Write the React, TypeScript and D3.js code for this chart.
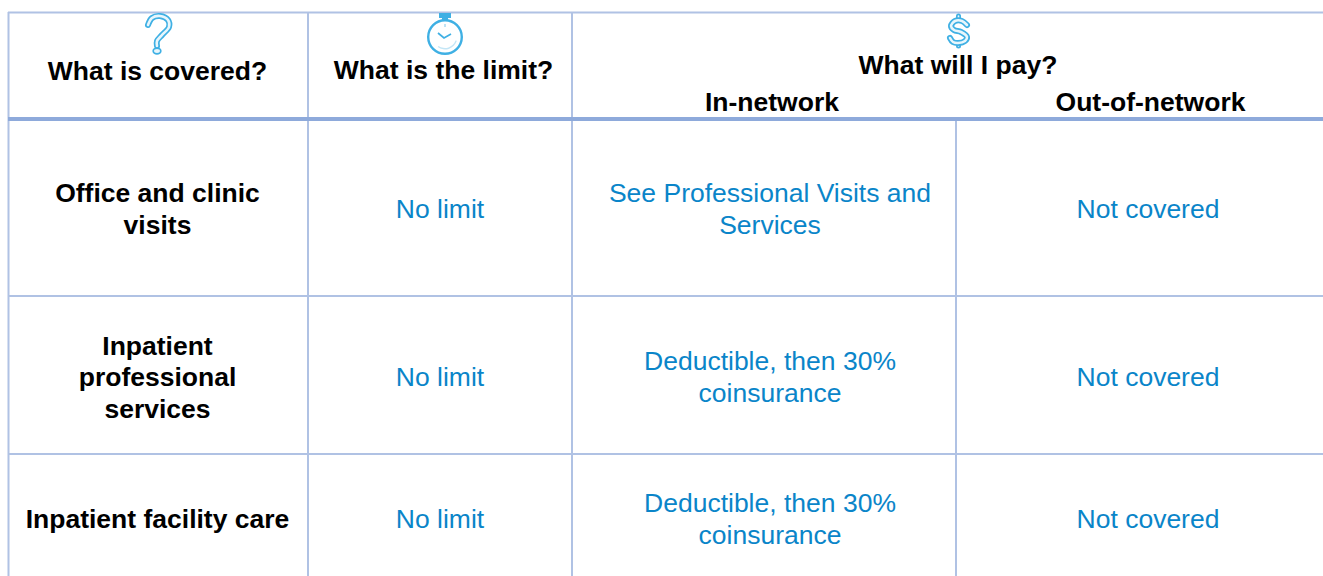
import React from 'react';
import * as d3 from 'd3';

const headers = ['What is covered?', 'What is the limit?'];
const payHeader = 'What will I pay?';
const payColumns = ['In-network', 'Out-of-network'];
const rowLabels = [['Office and clinic', 'visits'], ['Inpatient', 'professional', 'services'], ['Inpatient facility care']];
const limits = ['No limit', 'No limit', 'No limit'];
const inNetwork = [['See Professional Visits and', 'Services'], ['Deductible, then 30%', 'coinsurance'], ['Deductible, then 30%', 'coinsurance']];
const outNetwork = ['Not covered', 'Not covered', 'Not covered'];

const W = 1323;
const H = 576;
const FONT = '"Liberation Sans", Arial, sans-serif';
const GRID = '#b0c2e4';
const RULE = '#8eaadb';
const BLUE = '#0a85c9';
const ICON = '#3fb0e4';

// column edges and row edges, in pixels
const colX = d3.scaleOrdinal<number, number>().domain([0, 1, 2, 3]).range([9, 308, 572, 956]);
const rowY = d3.scaleOrdinal<number, number>().domain([0, 1, 2, 3]).range([12, 119, 296, 454]);
const LINE = 31.5;

const columnCentre = [157.5, 440, 770, 1148];
const rowCentre = [209, 377, 519];

function Lines({ x, y, lines, bold, fill }: { x: number; y: number; lines: string[]; bold?: boolean; fill: string }) {
  const top = y - ((lines.length - 1) * LINE) / 2;
  return (
    <text x={x} textAnchor="middle" fontFamily={FONT} fontSize={26.5} fontWeight={bold ? 700 : 400} fill={fill}>
      {lines.map((l, i) => (
        <tspan key={i} x={x} y={top + i * LINE + 9}>{l}</tspan>
      ))}
    </text>
  );
}

// thick pale stroke with a white core, so the glyph reads as an outline
function Outlined({ d, w = 6 }: { d: string; w?: number }) {
  return (
    <g fill="none" strokeLinecap="round" strokeLinejoin="round">
      <path d={d} stroke={ICON} strokeWidth={w} />
      <path d={d} stroke="#e8f6fc" strokeWidth={w - 3.4} />
    </g>
  );
}

function QuestionIcon() {
  const curve = d3.line().curve(d3.curveCatmullRom);
  const hook: [number, number][] = [[148, 25], [152, 18], [160, 16], [168, 20], [169, 27], [162, 35], [157, 41], [157, 46]];
  return (
    <g>
      <Outlined d={curve(hook) ?? ''} />
      <ellipse cx={157} cy={51} rx={3.8} ry={2.8} fill="#e8f6fc" stroke={ICON} strokeWidth={1.7} />
    </g>
  );
}

function ClockIcon() {
  const rim = d3.arc()({ innerRadius: 15.6, outerRadius: 18, startAngle: 0, endAngle: Math.PI * 2 }) ?? '';
  const shine = d3.arc()({ innerRadius: 11, outerRadius: 12.5, startAngle: Math.PI * 0.6, endAngle: Math.PI * 1.2 }) ?? '';
  return (
    <g transform="translate(445,37)">
      <rect x={-6} y={-24} width={12} height={5} fill={ICON} />
      <rect x={-3} y={-20} width={6} height={3} fill={ICON} />
      <path d={rim} fill={ICON} />
      <path d={shine} fill="#c4e6f6" />
      <path d="M-7,-4 L-1,1 L6,-3" fill="none" stroke={ICON} strokeWidth={1.7} />
      <path d="M0,-13 L0,-10" stroke="#a9d9f1" strokeWidth={1.5} />
    </g>
  );
}

function DollarIcon() {
  const curve = d3.line().curve(d3.curveCatmullRom);
  const s: [number, number][] = [[967, 25], [962, 21], [955, 21], [951, 26], [954, 30], [961, 32], [967, 37], [965, 41], [958, 43], [953, 42], [950, 38]];
  return (
    <g>
      <Outlined d="M958.5,16 L958.5,19" w={5} />
      <Outlined d="M958.5,44 L958.5,46" w={5} />
      <Outlined d={curve(s) ?? ''} />
    </g>
  );
}

export default function App() {
  return (
    <svg width={W} height={H} viewBox={`0 0 ${W} ${H}`} style={{ position: 'fixed', left: 0, top: 0, background: '#fff' }}>
      <line x1={8} x2={W} y1={12.5} y2={12.5} stroke={GRID} strokeWidth={2} />
      <line x1={8.5} x2={8.5} y1={12} y2={H} stroke={GRID} strokeWidth={2} />
      {[1, 2].map((c) => (
        <line key={c} x1={colX(c)} x2={colX(c)} y1={12} y2={H} stroke={GRID} strokeWidth={2} />
      ))}
      <line x1={colX(3)} x2={colX(3)} y1={rowY(1)} y2={H} stroke={GRID} strokeWidth={2} />
      {[2, 3].map((r) => (
        <line key={r} x1={8} x2={W} y1={rowY(r)} y2={rowY(r)} stroke={GRID} strokeWidth={2} />
      ))}
      <line x1={8} x2={W} y1={rowY(1)} y2={rowY(1)} stroke={RULE} strokeWidth={4} />

      <QuestionIcon />
      <ClockIcon />
      <DollarIcon />

      <Lines x={157.5} y={71} lines={[headers[0]]} bold fill="#000" />
      <Lines x={443.5} y={70} lines={[headers[1]]} bold fill="#000" />
      <Lines x={958} y={65} lines={[payHeader]} bold fill="#000" />
      <Lines x={772} y={102} lines={[payColumns[0]]} bold fill="#000" />
      <Lines x={1150.5} y={102} lines={[payColumns[1]]} bold fill="#000" />

      {rowLabels.map((lines, r) => (
        <g key={r}>
          <Lines x={columnCentre[0]} y={rowCentre[r]} lines={lines} bold fill="#000" />
          <Lines x={columnCentre[1]} y={rowCentre[r]} lines={[limits[r]]} fill={BLUE} />
          <Lines x={columnCentre[2]} y={rowCentre[r]} lines={inNetwork[r]} fill={BLUE} />
          <Lines x={columnCentre[3]} y={rowCentre[r]} lines={[outNetwork[r]]} fill={BLUE} />
        </g>
      ))}
    </svg>
  );
}
